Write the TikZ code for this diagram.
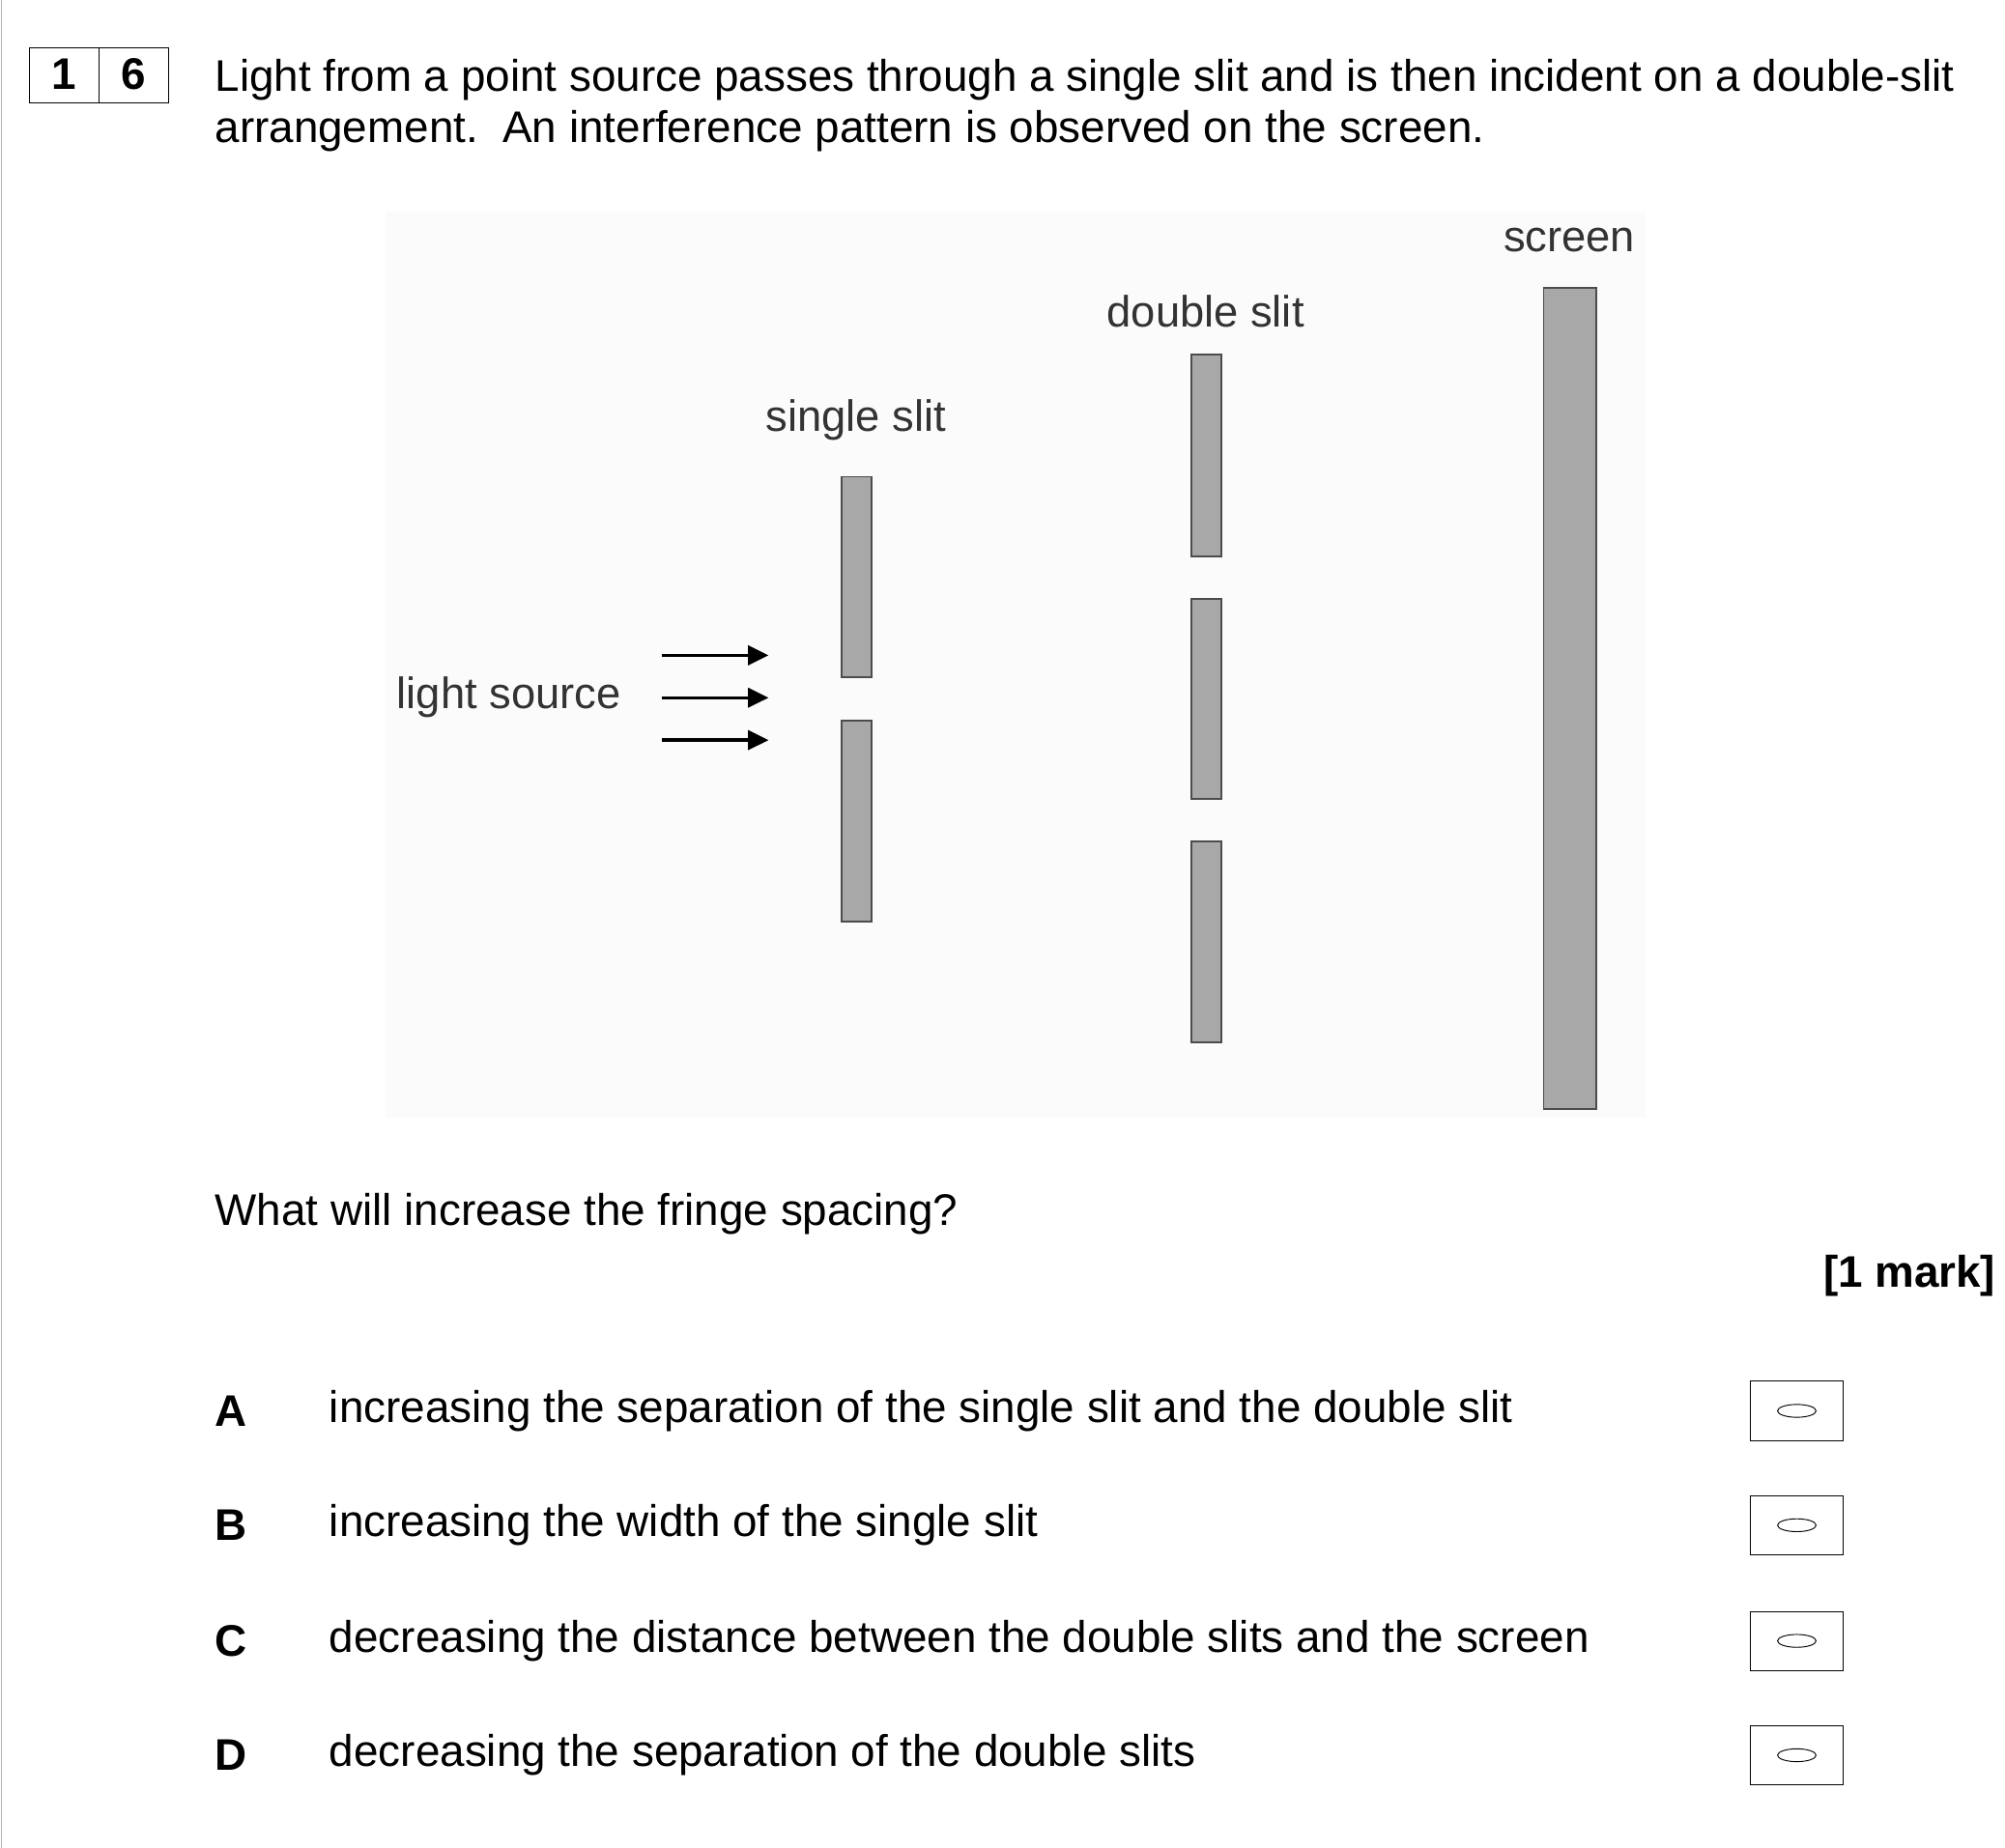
\documentclass[tikz,border=0pt]{standalone}
\usepackage{fontspec}
\setmainfont{Liberation Sans}
\usetikzlibrary{arrows.meta}
\begin{document}
\begin{tikzpicture}[x=0.02cm,y=-0.02cm,
  slitbar/.style={draw=black!70,fill=black!34,line width=0.8pt},
  qtext/.style={font=\fontsize{19.6}{26}\selectfont,anchor=west,inner sep=0},
  lbl/.style={font=\fontsize{19.4}{22}\selectfont,text=black!80,inner sep=0},
  ansbox/.style={draw,minimum width=1.44cm,minimum height=0.92cm,inner sep=0}]
\useasboundingbox (0,0) rectangle (1560,1438);
\fill[black!1.5] (300,165) rectangle (1280,870);
\draw[black!30] (1,0) -- (1,1438);
\draw (23,37) rectangle (131,80); \draw (77,37) -- (77,80);
\node[font=\bfseries\fontsize{19.6}{22}\selectfont] (n1) at (50,58) {1};
\node[font=\bfseries\fontsize{19.6}{22}\selectfont] (n2) at (104,58) {6};
\node[qtext] (q1) at (167,62) {Light from a point source passes through a single slit and is then incident on a double-slit};
\node[qtext] (q2) at (167,102) {arrangement.\ \ An interference pattern is observed on the screen.};
\node[lbl] (ls) at (396,543) {light source};
\node[lbl] (ss) at (666,327) {single slit};
\node[lbl] (ds) at (938,242) {double slit};
\node[lbl] (sc) at (1221,187) {screen};
\foreach \y in {510,543,576}{
  \coordinate (a\y) at (515,\y); \coordinate (b\y) at (598,\y);
  \draw[line width=1.5pt,arrows={-Triangle[length=0.32cm,width=0.3cm]}] (a\y) -- (b\y);}
\draw[slitbar] (655,371) rectangle (678,527);
\draw[slitbar] (655,561) rectangle (678,717);
\draw[slitbar] (927,276) rectangle (950,433);
\draw[slitbar] (927,466) rectangle (950,622);
\draw[slitbar] (927,655) rectangle (950,811);
\draw[slitbar] (1201,224) rectangle (1242,863);
\node[qtext] (qq) at (167,945) {What will increase the fringe spacing?};
\node[font=\bfseries\fontsize{19.6}{22}\selectfont,anchor=east,inner sep=0] (mk) at (1553,993) {[1 mark]};
\foreach \l/\t/\y in {A/increasing the separation of the single slit and the double slit/1098,
  B/increasing the width of the single slit/1187,
  C/decreasing the distance between the double slits and the screen/1277,
  D/decreasing the separation of the double slits/1366}{
  \node[qtext,font=\bfseries\fontsize{19.6}{26}\selectfont] (L\l) at (167,\y) {\l};
  \node[qtext] (T\l) at (256,\y) {\t};
  \node[ansbox] (X\l) at (1398,\y) {};
  \draw (X\l.center) ellipse (15 and 5);}
\end{tikzpicture}
\end{document}
